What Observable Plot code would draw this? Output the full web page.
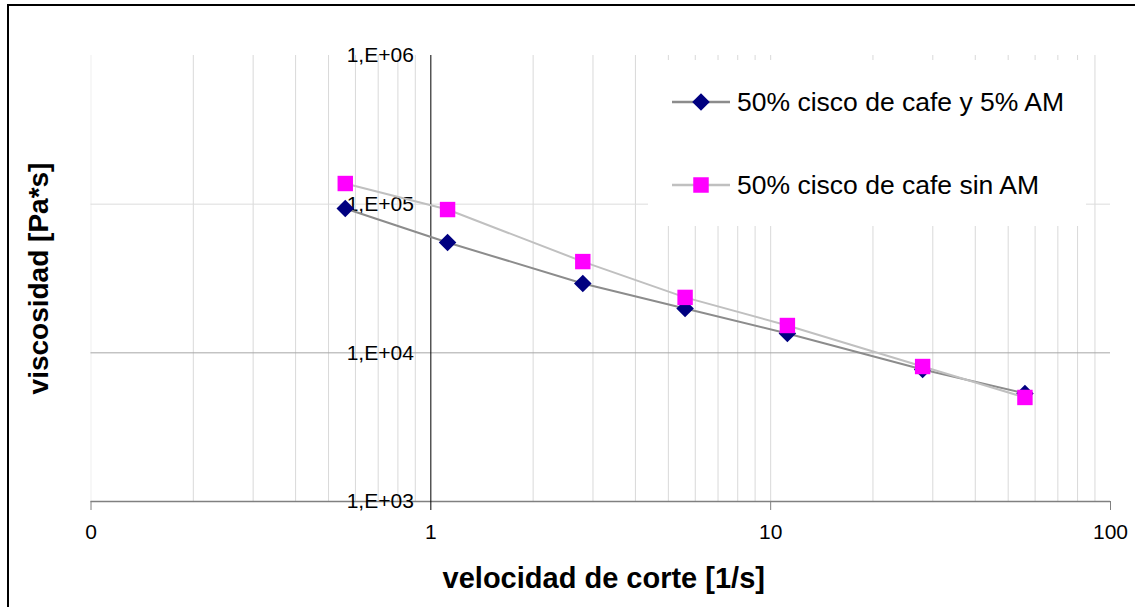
<!DOCTYPE html>
<html>
<head>
<meta charset="utf-8">
<script src="https://cdn.jsdelivr.net/npm/d3@7"></script>
<script src="https://cdn.jsdelivr.net/npm/@observablehq/plot@0.6"></script>
<style>
  html, body { margin: 0; padding: 0; background: #fff; }
  #chart svg { display: block; font-family: "Liberation Sans", Arial, sans-serif; }
</style>
</head>
<body>
<div id="chart"></div>
<script>
// ---- data ----
const shearRate = [0.56, 1.12, 2.8, 5.6, 11.2, 28, 56];
const viscConAM = [93500, 55200, 29300, 19900, 13500, 7730, 5330];
const viscSinAM = [137700, 92000, 41100, 23600, 15270, 8090, 5010];
const seriesNames = ["50% cisco de cafe y 5% AM", "50% cisco de cafe sin AM"];
const xTickValues = [0.1, 1, 10, 100];
const xTickLabels = ["0", "1", "10", "100"];
const yTickValues = [1e3, 1e4, 1e5, 1e6];
const yTickLabels = ["1,E+03", "1,E+04", "1,E+05", "1,E+06"];
const xMinorGrid = [0.2,0.3,0.4,0.5,0.6,0.7,0.8,0.9, 2,3,4,5,6,7,8,9,10, 20,30,40,50,60,70,80,90];
const xTitle = "velocidad de corte [1/s]";
const yTitle = "viscosidad [Pa*s]";

const s1 = shearRate.map((x, i) => ({x, y: viscConAM[i]}));
const s2 = shearRate.map((x, i) => ({x, y: viscSinAM[i]}));
const yLab = yTickValues.map((v, i) => ({v, t: yTickLabels[i]}));

const FONT = "Liberation Sans, Arial, sans-serif";

const chart = Plot.plot({
  width: 1135,
  height: 607,
  marginLeft: 90.5,
  marginRight: 25,
  marginTop: 55,
  marginBottom: 106,
  style: {fontFamily: FONT, background: "#fff", color: "#000"},
  x: {type: "log", domain: [0.1, 100], axis: null},
  y: {type: "log", domain: [1e3, 1e6], axis: null},
  marks: [
    Plot.ruleX([0.1], {stroke: "#efefef"}),
    Plot.ruleX(xMinorGrid, {stroke: "#d9d9d9"}),
    Plot.ruleY([1e5], {stroke: "#dcdcdc"}),
    Plot.ruleY([1e4], {stroke: "#a6a6a6"}),
    Plot.ruleY([1e3], {stroke: "#808080", strokeWidth: 1.5}),
    Plot.axisX([0.1, 10, 100], {tickSize: 9, tickPadding: 14, stroke: "#808080", label: null,
      tickFormat: d => xTickLabels[xTickValues.indexOf(d)], fontSize: 21, fill: "#000"}),
    Plot.axisX([1], {tickSize: 9, tickPadding: 14, stroke: "#000", label: null,
      tickFormat: d => xTickLabels[xTickValues.indexOf(d)], fontSize: 21, fill: "#000"}),
    Plot.ruleX([1], {stroke: "#000", strokeWidth: 1}),
    Plot.text(yLab, {x: () => 1, y: "v", text: "t", textAnchor: "end", dx: -17,
      fontSize: 21, fill: "#000"}),
    Plot.line(s1, {x: "x", y: "y", stroke: "#8c8c8c", strokeWidth: 2}),
    Plot.dot(s1, {x: "x", y: "y", symbol: "diamond2", r: 7.9, fill: "#000080", stroke: "none"}),
    Plot.line(s2, {x: "x", y: "y", stroke: "#c0c0c0", strokeWidth: 2}),
    Plot.dot(s2, {x: "x", y: "y", symbol: "square", r: 8.7, fill: "#ff00ff", stroke: "none"}),
    Plot.text([xTitle], {frameAnchor: "bottom", lineAnchor: "middle", textAnchor: "middle", dy: 77, dx: 3,
      fontSize: 29, fontWeight: "bold", fill: "#000"}),
    Plot.text([yTitle], {frameAnchor: "left", lineAnchor: "middle", textAnchor: "middle", dx: -52,
      rotate: -90, fontSize: 28, fontWeight: "bold", fill: "#000"})
  ]
});

document.getElementById("chart").appendChild(chart);

// legend and outer frame
const svg = d3.select(chart);
const lg = svg.append("g").attr("font-family", FONT).attr("text-anchor", "start");
lg.append("rect").attr("x", 648).attr("y", 60).attr("width", 438).attr("height", 166).attr("fill", "#fff");
const rows = [
  {y: 102, stroke: "#8c8c8c", sym: d3.symbolDiamond2, size: 197, fill: "#000080", name: seriesNames[0]},
  {y: 185, stroke: "#c0c0c0", sym: d3.symbolSquare, size: 240, fill: "#ff00ff", name: seriesNames[1]}
];
rows.forEach(r => {
  lg.append("line").attr("x1", 672).attr("x2", 730).attr("y1", r.y).attr("y2", r.y)
    .attr("stroke", r.stroke).attr("stroke-width", 2.5);
  lg.append("path").attr("d", d3.symbol(r.sym, r.size)()).attr("transform", `translate(701,${r.y})`)
    .attr("fill", r.fill);
  lg.append("text").attr("x", 737).attr("y", r.y).attr("dy", "0.35em").attr("text-anchor", "start")
    .attr("font-size", 26.5).attr("fill", "#000").text(r.name);
});
svg.append("rect").attr("x", 8).attr("y", 5).attr("width", 1200).attr("height", 700)
  .attr("fill", "none").attr("stroke", "#000").attr("stroke-width", 2);
</script>
</body>
</html>
